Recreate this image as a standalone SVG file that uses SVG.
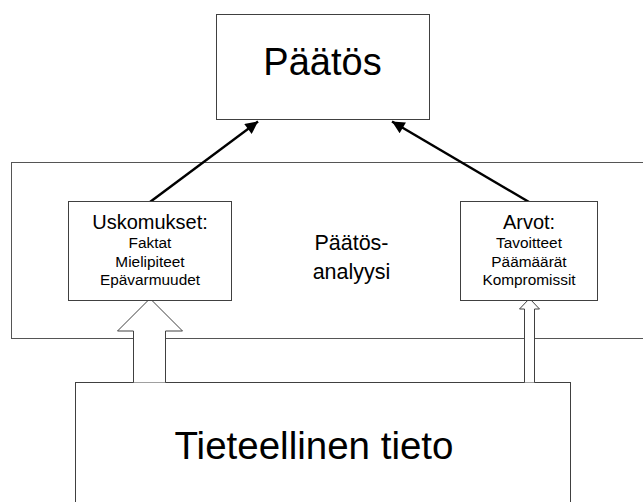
<svg xmlns="http://www.w3.org/2000/svg" width="643" height="502" viewBox="0 0 643 502">
<defs>
<style>
.box{fill:#fff;stroke:#404040;stroke-width:1}
.frame{fill:none;stroke:#555;stroke-width:1}
.t{font-family:"Liberation Sans",Arial,sans-serif;fill:#000;text-anchor:middle}
.conn{stroke:#000;stroke-width:2.5;fill:none}
.block{fill:#fff;stroke:#404040;stroke-width:1}
</style>
<marker id="ah" viewBox="0 0 10 10" refX="10" refY="5" markerWidth="6" markerHeight="5" markerUnits="strokeWidth" orient="auto">
<path d="M0,0 L10,5 L0,10 z" fill="#000"/>
</marker>
</defs>
<rect width="643" height="502" fill="#fff"/>
<g id="analyysi">
<rect class="frame" x="11.5" y="162.5" width="640" height="176"/>
<text class="t" x="351.5" y="250" font-size="21.5">Päätös-</text>
<text class="t" x="351.5" y="279" font-size="21.5">analyysi</text>
</g>
<g id="tieto">
<rect class="box" x="75.5" y="382.5" width="495" height="130"/>
<text class="t" x="314" y="459" font-size="38.5">Tieteellinen tieto</text>
</g>
<g id="connectors">
<line class="conn" x1="150" y1="202" x2="258" y2="121.5" marker-end="url(#ah)"/>
<line class="conn" x1="529" y1="202" x2="392" y2="121.5" marker-end="url(#ah)"/>
<path class="block" d="M133.5,382.5 V331 H117.5 L150,298.5 L182.5,331 H165.5 V382.5"/>
<path class="block" d="M524.5,382.5 V309 H519.5 L529.5,298.5 L539.5,309 H534.5 V382.5"/>
</g>
<g id="paatos">
<rect class="box" x="216.5" y="14.5" width="213" height="105"/>
<text class="t" x="322.5" y="75" font-size="38">Päätös</text>
</g>
<g id="uskomukset">
<rect class="box" x="68.5" y="201.5" width="163" height="99"/>
<text class="t" x="150" y="229" font-size="20">Uskomukset:</text>
<text class="t" x="150" y="248" font-size="15.4">Faktat</text>
<text class="t" x="150" y="266.5" font-size="15.4">Mielipiteet</text>
<text class="t" x="150" y="285" font-size="15.4">Epävarmuudet</text>
</g>
<g id="arvot">
<rect class="box" x="460.5" y="201.5" width="137" height="99"/>
<text class="t" x="529" y="229" font-size="20">Arvot:</text>
<text class="t" x="529" y="248" font-size="15.4">Tavoitteet</text>
<text class="t" x="529" y="266.5" font-size="15.4">Päämäärät</text>
<text class="t" x="529" y="285" font-size="15.4">Kompromissit</text>
</g>
</svg>
